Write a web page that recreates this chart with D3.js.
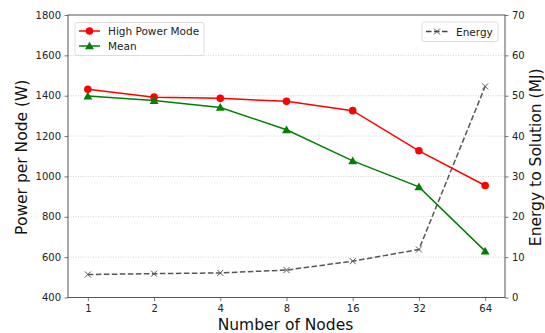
<!DOCTYPE html>
<html><head><meta charset="utf-8">
<script src="https://cdn.jsdelivr.net/npm/d3@7"></script>
<style>body{margin:0;background:#fff}svg{font-family:"DejaVu Sans",sans-serif}</style>
</head><body>
<svg id="c" width="545" height="333"></svg>
<script>
const nodes = [1, 2, 4, 8, 16, 32, 64];
const highPower = [1432, 1393, 1387, 1372, 1326, 1127, 955];
const meanPower = [1398, 1376, 1342, 1231, 1077, 948, 630];
const energy = [5.7, 5.9, 6.1, 6.8, 9.0, 11.9, 52.3];
const leftTicks = [400, 600, 800, 1000, 1200, 1400, 1600, 1800];
const rightTicks = [0, 10, 20, 30, 40, 50, 60, 70];

const L = 68, R = 505, T = 15, B = 297.5;
const svg = d3.select("#c");
const x = d3.scaleLog().base(2).domain([Math.pow(2, -0.3), Math.pow(2, 6.3)]).range([L, R]);
const yL = d3.scaleLinear().domain([400, 1800]).range([B, T]);
const yR = d3.scaleLinear().domain([0, 70]).range([B, T]);

// grid
svg.append("g").selectAll("line").data(leftTicks.slice(1, -1)).join("line")
  .attr("x1", L).attr("x2", R).attr("y1", d => yL(d)).attr("y2", d => yL(d))
  .attr("stroke", "#c8c8c8").attr("stroke-width", 0.8).attr("stroke-dasharray", "1,1.5");

const axCol = "#555";
const gx = svg.append("g").attr("transform", `translate(0,${B})`)
  .call(d3.axisBottom(x).tickValues(nodes).tickFormat(d3.format("d")).tickSize(3.5).tickPadding(3.5));
const gl = svg.append("g").attr("transform", `translate(${L},0)`)
  .call(d3.axisLeft(yL).tickValues(leftTicks).tickFormat(d3.format("d")).tickSize(3.5).tickPadding(3.5));
const gr = svg.append("g").attr("transform", `translate(${R},0)`)
  .call(d3.axisRight(yR).tickValues(rightTicks).tickFormat(d3.format("d")).tickSize(3.5).tickPadding(3.5));
[gx, gl, gr].forEach(g => {
  g.select(".domain").remove();
  g.selectAll("line").attr("stroke", axCol).attr("stroke-width", 0.8);
  g.selectAll("text").attr("fill", "#222").style("font-size", "10px").style("font-family", "DejaVu Sans");
});
// frame
svg.append("rect").attr("x", L).attr("y", T).attr("width", R - L).attr("height", B - T)
  .attr("fill", "none").attr("stroke", axCol).attr("stroke-width", 1);

// lines
const lineL = d3.line().x((d, i) => x(nodes[i])).y(d => yL(d));
const lineR = d3.line().x((d, i) => x(nodes[i])).y(d => yR(d));

svg.append("path").datum(energy).attr("d", lineR).attr("fill", "none")
  .attr("stroke", "#444").attr("stroke-opacity", 0.9).attr("stroke-width", 1.5).attr("stroke-dasharray", "5.5,2.5");
svg.append("path").datum(highPower).attr("d", lineL).attr("fill", "none").attr("stroke", "#ff0000").attr("stroke-width", 1.5);
svg.append("path").datum(meanPower).attr("d", lineL).attr("fill", "none").attr("stroke", "#008000").attr("stroke-width", 1.5);

function cross(g, cx, cy, s, col) {
  g.append("path").attr("d", `M${cx - s},${cy - s}L${cx + s},${cy + s}M${cx - s},${cy + s}L${cx + s},${cy - s}`)
    .attr("stroke", col).attr("stroke-width", 1);
}
const tri = d3.symbol().type(d3.symbolTriangle).size(34);
svg.append("g").selectAll("circle").data(highPower).join("circle")
  .attr("cx", (d, i) => x(nodes[i])).attr("cy", d => yL(d)).attr("r", 3.8).attr("fill", "#ff0000");
svg.append("g").selectAll("path").data(meanPower).join("path")
  .attr("d", tri).attr("transform", (d, i) => `translate(${x(nodes[i])},${yL(d) + 0.8})`).attr("fill", "#008000");
const ge = svg.append("g");
energy.forEach((d, i) => cross(ge, x(nodes[i]), yR(d), 3, "#555"));

// legends
const lg = svg.append("g");
lg.append("rect").attr("x", 75).attr("y", 22.5).attr("width", 129).attr("height", 33).attr("rx", 2)
  .attr("fill", "#fff").attr("fill-opacity", 0.8).attr("stroke", "#d6d6d6").attr("stroke-width", 0.8);
lg.append("line").attr("x1", 79).attr("x2", 100).attr("y1", 31).attr("y2", 31).attr("stroke", "#ff0000").attr("stroke-width", 1.5);
lg.append("circle").attr("cx", 89.5).attr("cy", 31).attr("r", 3.8).attr("fill", "#ff0000");
lg.append("text").attr("x", 108).attr("y", 35).text("High Power Mode").style("font-size", "10.5px").attr("fill", "#222");
lg.append("line").attr("x1", 79).attr("x2", 100).attr("y1", 46).attr("y2", 46).attr("stroke", "#008000").attr("stroke-width", 1.5);
lg.append("path").attr("d", tri).attr("transform", "translate(89.5,46.8)").attr("fill", "#008000");
lg.append("text").attr("x", 108).attr("y", 50).text("Mean").style("font-size", "10.5px").attr("fill", "#222");

const rg = svg.append("g");
rg.append("rect").attr("x", 422).attr("y", 22).attr("width", 76).attr("height", 19.5).attr("rx", 2)
  .attr("fill", "#fff").attr("fill-opacity", 0.8).attr("stroke", "#d6d6d6").attr("stroke-width", 0.8);
rg.append("line").attr("x1", 426).attr("x2", 448).attr("y1", 31.5).attr("y2", 31.5)
  .attr("stroke", "#444").attr("stroke-width", 1.5).attr("stroke-dasharray", "5.5,2.5");
cross(rg, 437, 31.5, 3, "#555");
rg.append("text").attr("x", 456).attr("y", 35.5).text("Energy").style("font-size", "10.5px").attr("fill", "#222");

// axis titles
svg.append("text").attr("x", (L + R) / 2 - 1).attr("y", 330).attr("text-anchor", "middle")
  .style("font-size", "15.5px").attr("fill", "#111").text("Number of Nodes");
svg.append("text").attr("transform", `translate(27,${(T + B) / 2 + 1}) rotate(-90)`).attr("text-anchor", "middle")
  .style("font-size", "15.5px").attr("fill", "#111").text("Power per Node (W)");
svg.append("text").attr("transform", `translate(541,${(T + B) / 2 + 1}) rotate(-90)`).attr("text-anchor", "middle")
  .style("font-size", "15.5px").attr("fill", "#111").text("Energy to Solution (MJ)");
</script>
</body></html>
